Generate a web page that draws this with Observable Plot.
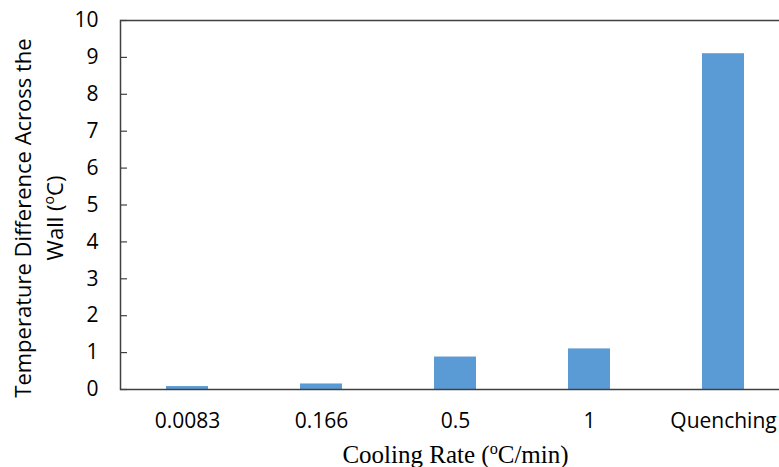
<!DOCTYPE html>
<html><head><meta charset="utf-8">
<script src="https://cdn.jsdelivr.net/npm/d3@7"></script>
<script src="https://cdn.jsdelivr.net/npm/@observablehq/plot@0.6"></script>
<style>body{margin:0;overflow:hidden;background:#fff}</style>
</head><body><div id="chart"></div>
<script>
const categories = ["0.0083", "0.166", "0.5", "1", "Quenching"];
const values = [0.08, 0.15, 0.88, 1.1, 9.1];
const yTicks = [0, 1, 2, 3, 4, 5, 6, 7, 8, 9, 10];
const yTitleLine1 = "Temperature Difference Across the";
const yTitleLine2 = "Wall (oC)";
const xTitle = "Cooling Rate (oC/min)";

const data = categories.map((c, i) => ({cat: c, value: values[i]}));

const plot = Plot.plot({
  width: 779, height: 467,
  marginLeft: 120, marginRight: -11, marginTop: 20, marginBottom: 78,
  style: {fontFamily: "Open Sans", fontSize: "21px", color: "#000", background: "#fff"},
  x: {domain: categories, paddingInner: 0.69, paddingOuter: 0.345, label: null},
  y: {domain: [0, 10], label: null},
  marks: [
    Plot.barY(data, {x: "cat", y: "value", fill: "#5B9BD5"}),
    Plot.frame({stroke: "#404040", strokeWidth: 1.5}),
    Plot.axisY({ticks: yTicks, tickSize: -7, tickPadding: 29, stroke: "#404040", strokeWidth: 1.2, label: null, fontSize: 21}),
    Plot.axisX({tickSize: 0, tickPadding: 24, label: null, fontSize: 21}),
    Plot.text([yTitleLine1], {frameAnchor: "left", rotate: -90, dx: -97, dy: 13, fontSize: 22, fill: "#000", textAnchor: "middle", lineAnchor: "middle"}),
    Plot.text([yTitleLine2], {frameAnchor: "left", rotate: -90, dx: -65, dy: 13, fontSize: 22, fill: "#000", textAnchor: "middle", lineAnchor: "middle"}),
    Plot.text([xTitle], {frameAnchor: "bottom", dy: 73, fontSize: 25, fontFamily: "Liberation Serif", fill: "#000", textAnchor: "middle", lineAnchor: "bottom"})
  ]
});

const ns = "http://www.w3.org/2000/svg";
plot.querySelectorAll("text").forEach(t => {
  const s = t.textContent;
  const i = s.indexOf("(oC");
  if (i < 0) return;
  while (t.firstChild) t.removeChild(t.firstChild);
  const a = document.createElementNS(ns, "tspan"); a.textContent = s.slice(0, i + 1);
  const b = document.createElementNS(ns, "tspan"); b.textContent = "o";
  b.setAttribute("baseline-shift", "super"); b.setAttribute("font-size", "65%");
  const c = document.createElementNS(ns, "tspan"); c.textContent = s.slice(i + 2);
  t.append(a, b, c);
});

document.getElementById("chart").append(plot);
</script></body></html>
